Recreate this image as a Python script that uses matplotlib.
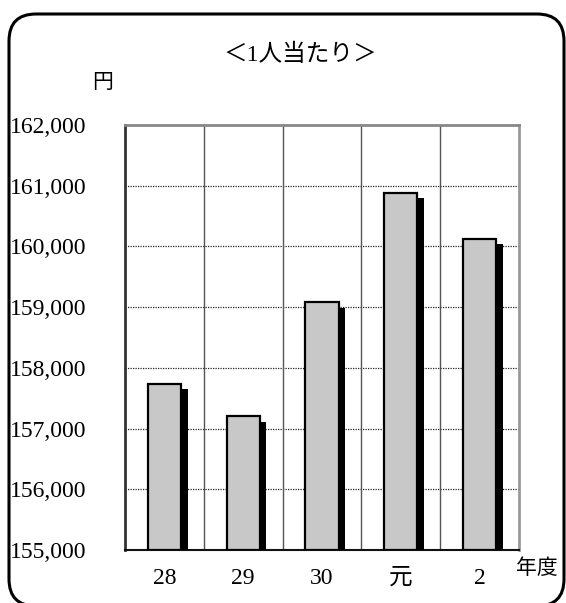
import matplotlib
matplotlib.use("Agg")
import matplotlib.pyplot as plt
import matplotlib.patches as mpatches
import matplotlib.transforms as mtransforms
import numpy as np

# data
years = ['28', '29', '30', '元', '2']
values = [157740, 157200, 159080, 160880, 160130]
y_ticks = [155000, 156000, 157000, 158000, 159000, 160000, 161000, 162000]

FONT = ['Liberation Serif', 'Noto Sans CJK JP']

fig = plt.figure(figsize=(5.66, 6.03), dpi=100)
ax = fig.add_axes([125 / 566, 53 / 603, 394 / 566, 425 / 603])

x = np.arange(len(years))
width = 0.42
dx = 0.085         # shadow offset (x, category units)
dy = 90            # shadow offset (y, data units)
base = y_ticks[0]

# shadow bars then the grey bars
ax.bar(x + dx, np.array(values) - base - dy, width, bottom=base,
       color='black', edgecolor='black', linewidth=0, zorder=3)
ax.bar(x, np.array(values) - base, width, bottom=base,
       color='#c8c8c8', edgecolor='black', linewidth=1.6, zorder=4)

ax.set_xlim(-0.5, len(years) - 0.5)
ax.set_ylim(y_ticks[0], y_ticks[-1])

# grid: dotted horizontals, solid verticals at category boundaries
for v in y_ticks[1:-1]:
    ax.axhline(v, color='#222222', linestyle=(0, (1.0, 1.0)), linewidth=0.9, zorder=1)
for b in np.arange(0.5, len(years) - 0.5, 1.0):
    ax.axvline(b, color='#555555', linewidth=1.0, zorder=1)

ax.set_yticks(y_ticks)
ax.set_yticklabels([f"{v:,}" for v in y_ticks])
ax.set_xticks(x)
ax.set_xticklabels(years)
ax.tick_params(axis='both', length=0)
ax.tick_params(axis='x', pad=13)
for lab in ax.get_yticklabels() + ax.get_xticklabels():
    lab.set_family(FONT)
    lab.set_fontsize(17)
for lab in ax.get_yticklabels():
    lab.set_horizontalalignment('left')
ax.tick_params(axis='y', pad=115 * 0.72)

ax.spines['top'].set_color('#888888')
ax.spines['top'].set_linewidth(2.0)
ax.spines['right'].set_color('#999999')
ax.spines['right'].set_linewidth(2.0)
ax.spines['left'].set_color('#333333')
ax.spines['left'].set_linewidth(2.0)
ax.spines['bottom'].set_color('#111111')
ax.spines['bottom'].set_linewidth(1.5)

# texts
fig.text(300 / 566, 1 - 55 / 603, '＜1人当たり＞', ha='center', va='center',
         family=FONT, fontsize=17)
fig.text(103 / 566, 1 - 84 / 603, '円', ha='center', va='center',
         family=FONT, fontsize=15)
fig.text(537 / 566, 1 - 569 / 603, '年度', ha='center', va='center',
         family=FONT, fontsize=15)

# rounded frame around the chart (pixel coordinates)
frame = mpatches.FancyBboxPatch((9, -3), 555, 592,
                                boxstyle='round,pad=0,rounding_size=27',
                                transform=mtransforms.IdentityTransform(),
                                facecolor='none', edgecolor='black',
                                linewidth=2.2, clip_on=False)
fig.add_artist(frame)

fig.savefig('out.png', dpi=100)
